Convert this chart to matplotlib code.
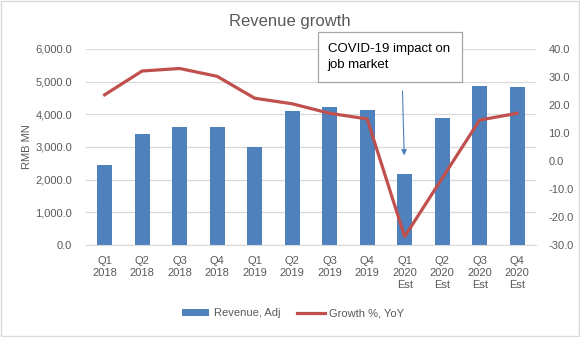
import matplotlib.pyplot as plt
import numpy as np
from matplotlib.patches import Rectangle

# Quarterly data
quarters = ["Q1\n2018", "Q2\n2018", "Q3\n2018", "Q4\n2018",
            "Q1\n2019", "Q2\n2019", "Q3\n2019", "Q4\n2019",
            "Q1\n2020\nEst", "Q2\n2020\nEst", "Q3\n2020\nEst", "Q4\n2020\nEst"]
revenue = [2450, 3400, 3600, 3600, 3000, 4100, 4230, 4130, 2180, 3900, 4870, 4840]
growth = [23.6, 32.1, 33.0, 30.2, 22.4, 20.4, 17.0, 15.0, -27.0, -6.2, 14.6, 17.0]

left_ticks = np.arange(0, 6001, 1000)
right_ticks = np.arange(-30, 41, 10)

BAR_C = "#4F81BD"
LINE_C = "#C0504D"
TXT_C = "#595959"
GRID_C = "#D9D9D9"

plt.rcParams["font.family"] = ["Liberation Sans", "DejaVu Sans"]

fig = plt.figure(figsize=(5.8, 3.37), dpi=100)
ax = fig.add_axes([0.148, 0.273, 0.776, 0.582])
ax2 = ax.twinx()

x = np.arange(len(quarters))
ax.bar(x, revenue, width=0.4, color=BAR_C, label="Revenue, Adj", zorder=2)
ax2.plot(x, growth, color=LINE_C, lw=2.3, label="Growth %, YoY",
         solid_joinstyle="round", zorder=3)

ax.set_xlim(-0.5, len(quarters) - 0.5)
ax.set_ylim(0, 6000)
ax2.set_ylim(-30, 40)
ax.set_yticks(left_ticks)
ax.set_yticklabels([f"{v:,.1f}" for v in left_ticks])
ax2.set_yticks(right_ticks)
ax2.set_yticklabels([f"{v:.1f}" for v in right_ticks])
ax.set_xticks(x)
ax.set_xticklabels(quarters, linespacing=1.25)

ax.grid(axis="y", color=GRID_C, lw=0.9, zorder=0)
ax.set_axisbelow(True)
for a in (ax, ax2):
    for s in a.spines.values():
        s.set_visible(False)
    a.tick_params(length=0, colors=TXT_C, labelsize=8)
ax.spines["bottom"].set_visible(True)
ax.spines["bottom"].set_color(GRID_C)
ax.tick_params(axis="y", pad=10)
ax.tick_params(axis="x", pad=8)
ax2.tick_params(axis="y", pad=9)

ax.set_ylabel("RMB MN", color=TXT_C, fontsize=8, labelpad=2)

fig.text(0.5, 0.935, "Revenue growth", ha="center", va="center",
         fontsize=12, color=TXT_C)

# Annotation pointing at Q1 2020
i = 8
ax2.annotate("", xy=(i - 0.01, growth[i] + 28), xytext=(i - 0.06, growth[i] + 53),
             arrowprops=dict(arrowstyle="-|>", color=BAR_C, lw=0.8,
                             mutation_scale=8), zorder=5)

fig.patches.append(Rectangle((0.548, 0.757), 0.248, 0.148, transform=fig.transFigure,
                             facecolor="white", edgecolor="#A6A6A6", lw=0.9,
                             zorder=10))
fig.text(0.565, 0.83, "COVID-19 impact on\njob market", ha="left", va="center",
         fontsize=9.5, color="black", linespacing=1.4, zorder=11)

# Legend
h1, l1 = ax.get_legend_handles_labels()
h2, l2 = ax2.get_legend_handles_labels()
fig.legend(h1 + h2, l1 + l2, loc="center", bbox_to_anchor=(0.505, 0.07), ncol=2,
           frameon=False, fontsize=8, labelcolor=TXT_C, handlelength=2.5,
           columnspacing=1.5, handletextpad=0.4)

# Light frame around the whole chart
fig.patches.append(Rectangle((0.001, 0.002), 0.997, 0.995, transform=fig.transFigure,
                             facecolor="none", edgecolor="#D9D9D9", lw=1))

fig.savefig("out.png", dpi=100)
